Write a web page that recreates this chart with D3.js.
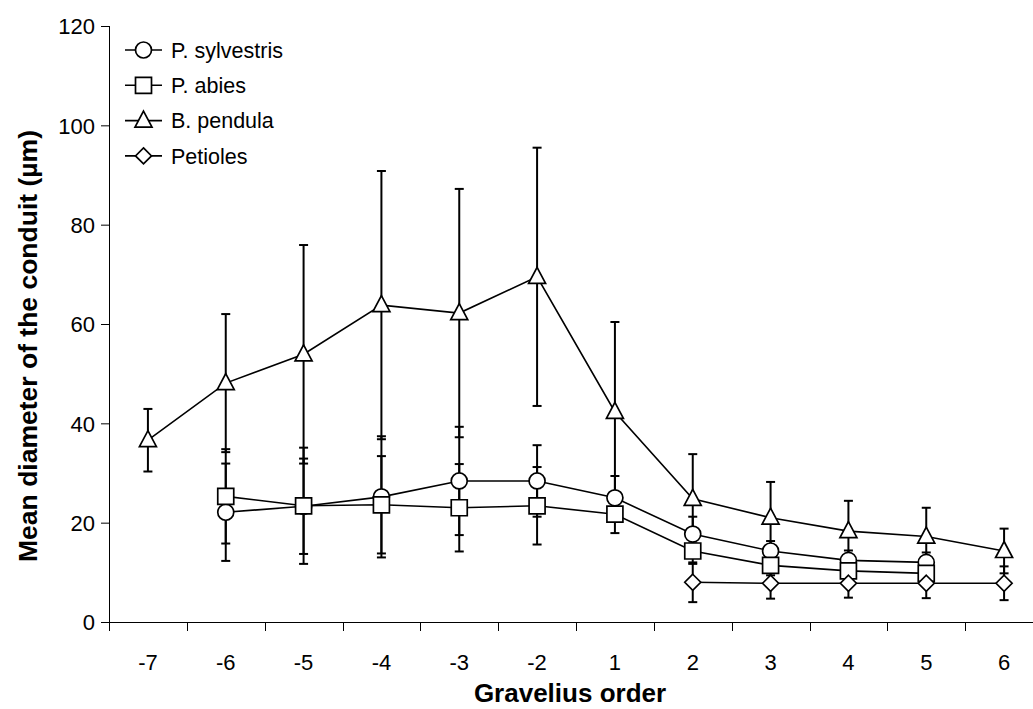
<!DOCTYPE html>
<html><head><meta charset="utf-8">
<script src="https://cdn.jsdelivr.net/npm/d3@7"></script>
<style>body{margin:0;background:#fff}svg{display:block}text{font-family:"Liberation Sans",Arial,sans-serif;fill:#000}</style>
</head><body><svg id="c" width="1033" height="709"></svg>
<script>
const categories = ["-7","-6","-5","-4","-3","-2","1","2","3","4","5","6"];
const yTicks = [0,20,40,60,80,100,120];
const seriesNames = ["P. sylvestris","P. abies","B. pendula","Petioles"];
const sylvestris = [null,22.1,23.3,25.2,28.4,28.4,25.0,17.7,14.3,12.4,12.0,null];
const sylvestrisErr = [null,9.8,9.6,12.2,10.9,7.2,4.4,3.5,2.0,2.0,2.0,null];
const abies = [null,25.3,23.4,23.6,23.0,23.4,21.7,14.3,11.4,10.3,9.8,null];
const abiesErr = [null,9.5,11.7,9.8,8.8,7.8,3.8,2.6,2.0,1.8,1.8,null];
const pendula = [36.6,48.1,53.9,63.8,62.2,69.5,42.3,24.8,21.0,18.3,17.2,14.3];
const pendulaErr = [6.3,13.9,22.0,27.0,25.0,26.0,18.1,9.0,7.2,6.1,5.8,4.5];
const petioles = [null,null,null,null,null,null,null,8.0,7.8,7.8,7.8,7.8];
const petiolesErr = [null,null,null,null,null,null,null,4.0,3.1,2.9,3.0,3.4];

const svg = d3.select("#c");
const x = d3.scaleBand().domain(categories).range([109,1043]).padding(0);
const y = d3.scaleLinear().domain([0,120]).range([622,26]);
const cx = c => x(c) + x.bandwidth()/2;

const symPaths = {
  circle: "M8,0A8,8 0 1,1 -8,0A8,8 0 1,1 8,0Z",
  square: "M-8,-8H8V8H-8Z",
  triangle: "M0,-9.5L8.5,6.5H-8.5Z",
  diamond: "M0,-8L8,0L0,8L-8,0Z"
};
const series = [
  {name:seriesNames[0], vals:sylvestris, err:sylvestrisErr, shape:"circle"},
  {name:seriesNames[1], vals:abies, err:abiesErr, shape:"square"},
  {name:seriesNames[2], vals:pendula, err:pendulaErr, shape:"triangle"},
  {name:seriesNames[3], vals:petioles, err:petiolesErr, shape:"diamond"}
];

// axes
const yAxis = d3.axisLeft(y).tickValues(yTicks).tickSize(8).tickPadding(6);
const gy = svg.append("g").attr("transform","translate(109,0)").call(yAxis);
gy.select(".domain").attr("d","M0.5,26V622.5").attr("stroke","#000");
gy.selectAll("text").style("font-size","22px").style("font-family","'Liberation Sans',Arial,sans-serif").attr("dy","0.35em").attr("fill","#000");
gy.selectAll("line").attr("stroke","#000");

const gx = svg.append("g").attr("transform","translate(0,622)");
gx.append("line").attr("x1",101).attr("x2",1043).attr("y1",0.5).attr("y2",0.5).attr("stroke","#000");
const bounds = categories.map(c=>x(c)).concat([x(categories[categories.length-1])+x.bandwidth()]);
gx.selectAll("line.tk").data(bounds).join("line").attr("class","tk")
  .attr("x1",d=>Math.round(d)+0.5).attr("x2",d=>Math.round(d)+0.5).attr("y1",0).attr("y2",9).attr("stroke","#000");
gx.selectAll("text").data(categories).join("text")
  .attr("x",d=>cx(d)).attr("y",48).attr("text-anchor","middle").style("font-size","22px").text(d=>d);

svg.append("text").attr("x",570).attr("y",702).attr("text-anchor","middle")
  .style("font-size","26px").style("font-weight","bold").text("Gravelius order");
svg.append("text").attr("transform","translate(37,346) rotate(-90)").attr("text-anchor","middle")
  .style("font-size","26.5px").style("font-weight","bold").text("Mean diameter of the conduit (µm)");

const plot = svg.append("g");
// error bars and lines
series.forEach(s=>{
  const pts = categories.map((c,i)=>({c,v:s.vals[i],e:s.err[i]})).filter(d=>d.v!=null);
  const eb = plot.append("g");
  pts.forEach(d=>{
    eb.append("line").attr("x1",cx(d.c)).attr("x2",cx(d.c)).attr("y1",y(d.v+d.e)).attr("y2",y(d.v-d.e)).attr("stroke","#000").attr("stroke-width",2);
    [d.v+d.e,d.v-d.e].forEach(v=>eb.append("line").attr("x1",cx(d.c)-4.5).attr("x2",cx(d.c)+4.5).attr("y1",y(v)).attr("y2",y(v)).attr("stroke","#000").attr("stroke-width",2));
  });
  plot.append("path").datum(pts).attr("fill","none").attr("stroke","#000").attr("stroke-width",1.6)
    .attr("d",d3.line().x(d=>cx(d.c)).y(d=>y(d.v)));
});
// markers
series.forEach(s=>{
  const pts = categories.map((c,i)=>({c,v:s.vals[i]})).filter(d=>d.v!=null);
  plot.append("g").selectAll("path").data(pts).join("path")
    .attr("transform",d=>`translate(${cx(d.c)},${y(d.v)})`).attr("d",symPaths[s.shape])
    .attr("fill","#fff").attr("stroke","#000").attr("stroke-width",1.7);
});

// legend
const lg = svg.append("g");
series.forEach((s,i)=>{
  const yy = 50 + i*35.3;
  lg.append("line").attr("x1",125).attr("x2",162).attr("y1",yy).attr("y2",yy).attr("stroke","#000").attr("stroke-width",1.6);
  lg.append("path").attr("transform",`translate(143.5,${yy})`).attr("d",symPaths[s.shape]).attr("fill","#fff").attr("stroke","#000").attr("stroke-width",1.7);
  lg.append("text").attr("x",171).attr("y",yy).attr("dy","0.36em").style("font-size","21.5px").text(s.name);
});
</script></body></html>
